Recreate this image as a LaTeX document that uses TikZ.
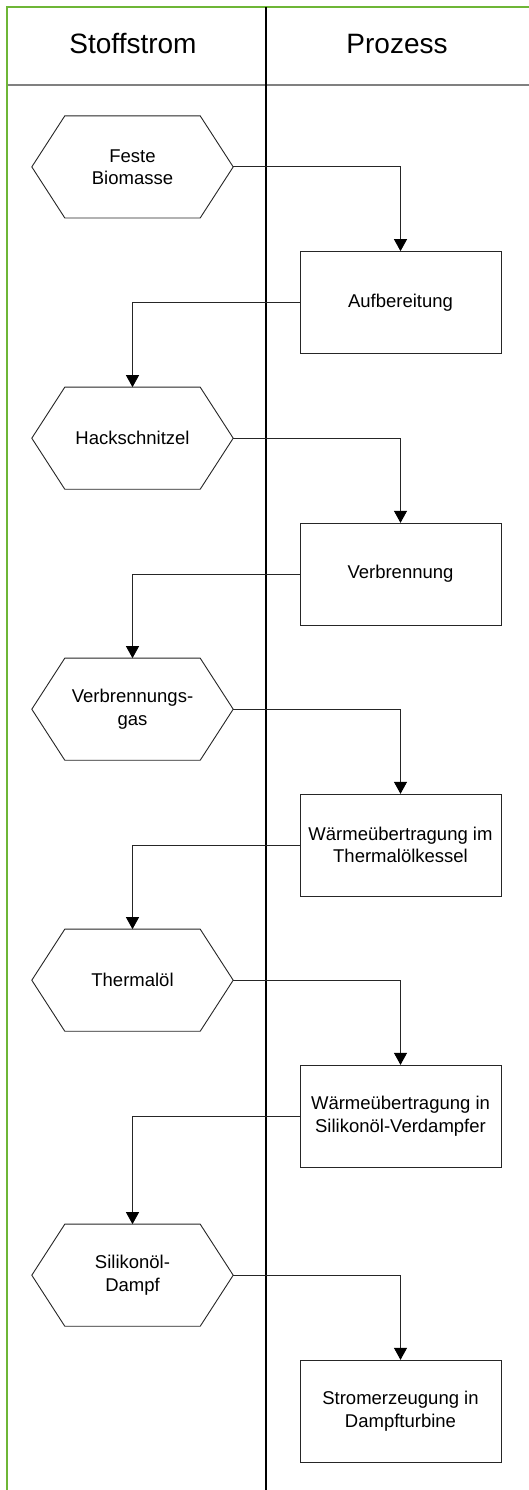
\documentclass[tikz,border=0pt]{standalone}
\usepackage{fontspec}
\setmainfont{Liberation Sans}
\usetikzlibrary{arrows.meta}
\definecolor{lanegreen}{RGB}{110,182,54}
\definecolor{rulegray}{RGB}{128,128,128}
\begin{document}
\begin{tikzpicture}[x=1pt,y=-1pt,
  bodytext/.style={font=\fontsize{18.5}{22.3}\selectfont, align=center, inner sep=0pt},
  stoff/.style={bodytext, minimum width=201pt, minimum height=101.7pt},
  proc/.style={bodytext, draw=black!85, line width=1pt, fill=white,
               minimum width=201pt, minimum height=101.7pt},
  hexline/.style={draw=black!85, line width=0.9pt},
  flow/.style={draw=black!85, line width=0.9pt,
               -{Triangle[length=12pt,width=13pt,color=black]}},
  headtext/.style={font=\fontsize{28}{33}\selectfont, anchor=base, inner sep=0pt}]

% page and swimlane frame
\fill[white] (0,0) rectangle (529,1490);
\useasboundingbox (0,0) rectangle (529,1490);
\draw[lanegreen, line width=2.2pt] (7,1490) -- (7,7) -- (529,7);
\draw[rulegray, line width=2.2pt] (8,85.3) -- (529,85.3);
\draw[black, line width=1.5pt] (266,7) -- (266,1490);

% lane headers
\node[headtext] (hdA) at (133,53.3) {Stoffstrom};
\node[headtext] (hdB) at (397,53.3) {Prozess};

% material flows (hexagons)
\node[stoff] (h1) at (132.5,166.9)  {Feste\\Biomasse};
\node[stoff] (h2) at (132.5,438.2)  {Hackschnitzel};
\node[stoff] (h3) at (132.5,709.2)  {Verbrennungs-\\gas};
\node[stoff] (h4) at (132.5,980.2)  {Thermalöl};
\node[stoff] (h5) at (132.5,1275.2) {Silikonöl-\\Dampf};
\foreach \n in {h1,h2,h3,h4,h5}
  \draw[hexline] (\n.west) -- ([xshift=33pt]\n.north west) -- ([xshift=-33pt]\n.north east)
    -- (\n.east) -- ([xshift=-33pt]\n.south east) -- ([xshift=33pt]\n.south west) -- cycle;

% process steps
\node[proc] (b1) at (400.5,302.5)  {Aufbereitung};
\node[proc] (b2) at (400.5,574.2)  {Verbrennung};
\node[proc] (b3) at (400.5,845.2)  {Wärmeübertragung im\\Thermalölkessel};
\node[proc] (b4) at (400.5,1116.2) {Wärmeübertragung in\\Silikonöl-Verdampfer};
\node[proc] (b5) at (400.5,1411.2) {Stromerzeugung in\\Dampfturbine};

% connectors
\draw[flow] (h1.east) -| (b1.north);
\draw[flow] (b1.west) -| (h2.north);
\draw[flow] (h2.east) -| (b2.north);
\draw[flow] (b2.west) -| (h3.north);
\draw[flow] (h3.east) -| (b3.north);
\draw[flow] (b3.west) -| (h4.north);
\draw[flow] (h4.east) -| (b4.north);
\draw[flow] (b4.west) -| (h5.north);
\draw[flow] (h5.east) -| (b5.north);
\end{tikzpicture}
\end{document}
